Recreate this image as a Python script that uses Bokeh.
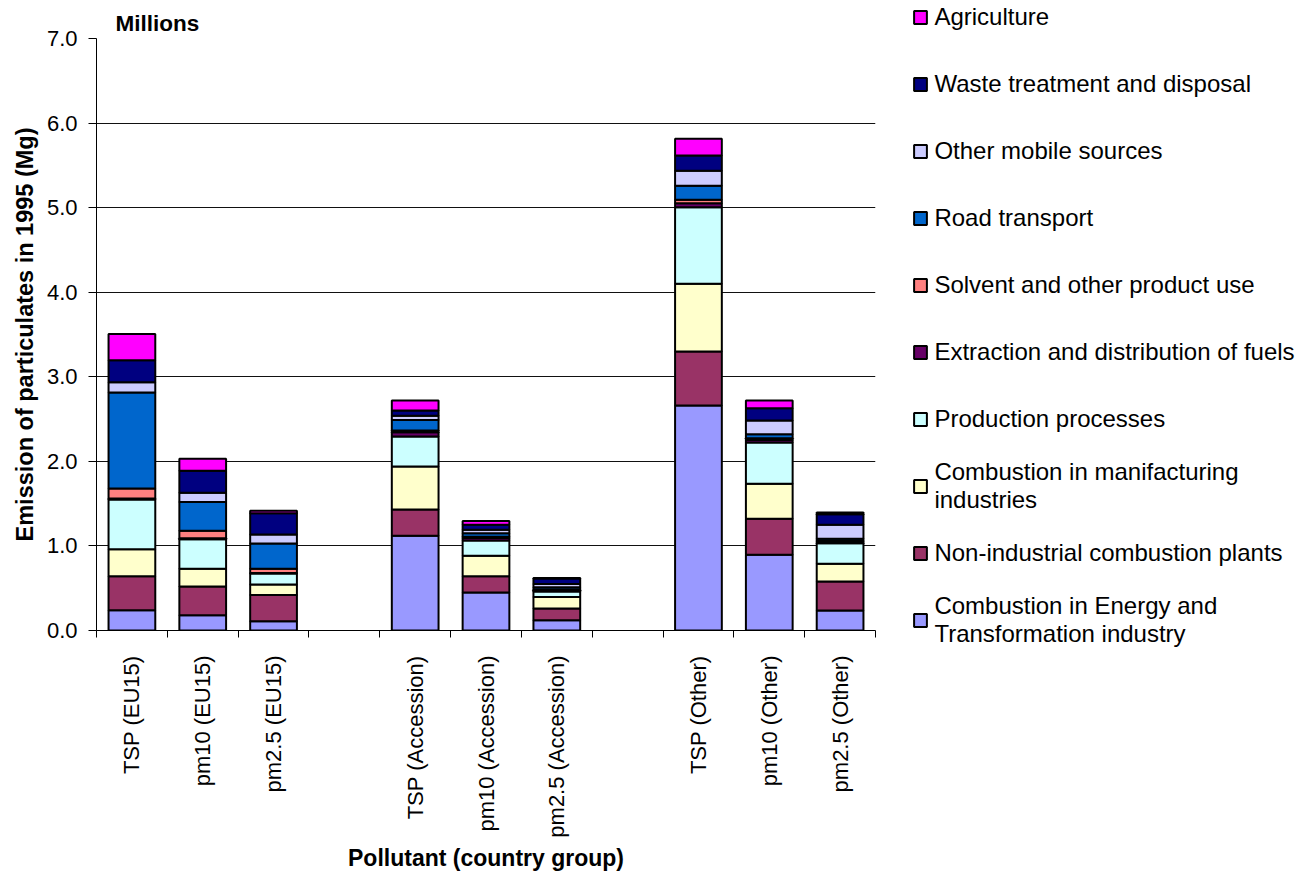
import math
from bokeh.plotting import figure
from bokeh.models import (ColumnDataSource, FixedTicker, NumeralTickFormatter,
                          Range1d, Legend, LegendItem)
from bokeh.embed import file_html
from bokeh.resources import INLINE

# ---------------- data ----------------
categories = ["TSP (EU15)", "pm10 (EU15)", "pm2.5 (EU15)", "",
              "TSP (Accession)", "pm10 (Accession)", "pm2.5 (Accession)", "",
              "TSP (Other)", "pm10 (Other)", "pm2.5 (Other)"]

series_names = ["Combustion in Energy and\nTransformation industry",
                "Non-industrial combustion plants",
                "Combustion in manifacturing\nindustries",
                "Production processes",
                "Extraction and distribution of fuels",
                "Solvent and other product use",
                "Road transport",
                "Other mobile sources",
                "Waste treatment and disposal",
                "Agriculture"]

energy     = [0.24, 0.18, 0.11, 0, 1.12, 0.45, 0.12, 0, 2.66, 0.895, 0.236]
nonind     = [0.40, 0.34, 0.31, 0, 0.31, 0.19, 0.14, 0, 0.64, 0.426, 0.343]
manuf      = [0.32, 0.21, 0.125, 0, 0.51, 0.245, 0.135, 0, 0.80, 0.414, 0.21]
production = [0.59, 0.35, 0.13, 0, 0.355, 0.18, 0.065, 0, 0.905, 0.488, 0.243]
extraction = [0.01, 0.01, 0.005, 0, 0.05, 0.03, 0.015, 0, 0.048, 0.03, 0.015]
solvent    = [0.12, 0.09, 0.05, 0, 0.02, 0.015, 0.01, 0, 0.04, 0.02, 0.01]
road       = [1.135, 0.34, 0.30, 0, 0.125, 0.04, 0.025, 0, 0.165, 0.047, 0.027]
other_mob  = [0.12, 0.11, 0.105, 0, 0.05, 0.04, 0.04, 0, 0.178, 0.162, 0.166]
waste      = [0.26, 0.26, 0.25, 0, 0.06, 0.06, 0.065, 0, 0.181, 0.145, 0.125]
agri       = [0.31, 0.14, 0.03, 0, 0.12, 0.045, 0.005, 0, 0.197, 0.092, 0.02]

colors = ["#9999FF", "#993366", "#FFFFCC", "#CCFFFF", "#660066",
          "#FF8080", "#0066CC", "#CCCCFF", "#000080", "#FF00FF"]

y_ticks = [0, 1, 2, 3, 4, 5, 6, 7]

FONT = "Liberation Sans"

# ---------------- build ----------------
all_series = [energy, nonind, manuf, production, extraction, solvent,
              road, other_mob, waste, agri]
keys = ["s%d" % i for i in range(len(all_series))]
keep = [i for i, c in enumerate(categories) if c]
data = {"x": keep}
for k, s in zip(keys, all_series):
    data[k] = [s[i] for i in keep]
source = ColumnDataSource(data)

FW, FH = 779, 592
LEFT, TOP = 96, 38
n = len(categories)
p = figure(frame_width=FW, frame_height=FH, output_backend="svg",
           toolbar_location=None, x_range=Range1d(-0.5, n - 0.5),
           y_range=Range1d(0, 7), min_border_left=LEFT,
           min_border_right=1291 - LEFT - FW,
           min_border_top=TOP, min_border_bottom=10)
renderers = p.vbar_stack(keys, x="x", width=0.66, source=source,
                         fill_color=colors, line_color="black", line_width=2)

p.outline_line_color = None
p.background_fill_color = "white"
p.xgrid.grid_line_color = None
p.ygrid.grid_line_color = "#111111"
p.ygrid.grid_line_width = 1
p.ygrid.ticker = FixedTicker(ticks=y_ticks)

# x axis: labels at centres, ticks at category boundaries
xa = p.xaxis[0]
xa.ticker = FixedTicker(ticks=list(range(n)),
                        minor_ticks=[i - 0.5 for i in range(n + 1)])
xa.major_label_overrides = {i: c for i, c in enumerate(categories)}
xa.major_label_orientation = math.pi / 2
xa.major_tick_out = 0
xa.major_tick_in = 0
xa.minor_tick_out = 7
xa.minor_tick_in = 0
xa.minor_tick_line_color = "black"
xa.axis_line_color = "black"
xa.major_label_text_font = FONT
xa.major_label_text_font_size = "22px"
xa.major_label_text_color = "black"
xa.major_label_standoff = 18
xa.axis_label = "Pollutant (country group)"
xa.axis_label_text_font = FONT
xa.axis_label_text_font_size = "23px"
xa.axis_label_text_font_style = "bold"
xa.axis_label_text_color = "black"
xa.axis_label_standoff = 4

ya = p.yaxis[0]
ya.ticker = FixedTicker(ticks=y_ticks)
ya.formatter = NumeralTickFormatter(format="0.0")
ya.major_tick_out = 8
ya.major_tick_in = 0
ya.minor_tick_out = 0
ya.minor_tick_in = 0
ya.axis_line_color = "black"
ya.major_tick_line_color = "black"
ya.major_label_text_font = FONT
ya.major_label_text_font_size = "22px"
ya.major_label_text_color = "black"
ya.major_label_standoff = 11
ya.axis_label = "Emission of particulates in 1995 (Mg)"
ya.axis_label_text_font = FONT
ya.axis_label_text_font_size = "23.5px"
ya.axis_label_text_font_style = "bold"
ya.axis_label_text_color = "black"
ya.axis_label_standoff = 6

p.title.text = "Millions"
p.title.text_font = FONT
p.title.text_font_size = "22.5px"
p.title.text_font_style = "bold"
p.title.text_color = "black"
p.title.align = "left"
p.title.offset = 19
p.title.standoff = 5

# ---------------- legend (side panel, top entry = last series) ----------------
ITEM_H = 67
order = list(range(len(series_names)))[::-1]  # Agriculture first
items = [LegendItem(label=series_names[si], renderers=[renderers[si]])
         for si in order]
first_centre = 16.5
legend_top = first_centre - ITEM_H / 2
legend_bottom = legend_top + len(items) * ITEM_H
legend = Legend(items=items,
                location=(37.4, (TOP + FH) - legend_bottom),
                padding=0, margin=0, spacing=0,
                border_line_color=None, background_fill_alpha=0,
                glyph_width=16, glyph_height=16, label_standoff=6,
                label_height=ITEM_H,
                label_text_font=FONT, label_text_font_size="24px",
                label_text_color="black")
p.add_layout(legend, "right")

open("out.html", "w").write(file_html(p, INLINE))
